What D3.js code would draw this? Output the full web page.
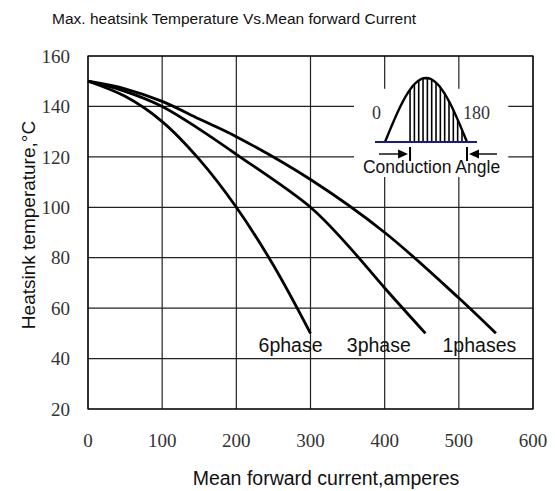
<!DOCTYPE html>
<meta charset="utf-8">
<script src="https://d3js.org/d3.v7.min.js"></script>
<style>
  body { margin: 0; background: #fff; }
</style>
<svg id="chart" width="555" height="491"></svg>
<script>
    // values
    var current6 = [0, 50, 100, 150, 200, 250, 300];
    var temp6    = [150, 144, 134, 119, 100, 77, 50];
    var current3 = [0, 50, 100, 150, 200, 300, 350, 400, 455];
    var temp3    = [150, 146, 140, 131, 121, 100, 85, 68, 50];
    var current1 = [0, 50, 100, 150, 200, 300, 400, 500, 550];
    var temp1    = [150, 147, 142, 135, 128, 111, 90, 64, 50];
    var seriesNames = ["6phase", "3phase", "1phases"];
    var labelAt = [230, 349, 478];   // x value where each label starts
    var xTicks = [0, 100, 200, 300, 400, 500, 600];
    var yTicks = [20, 40, 60, 80, 100, 120, 140, 160];

    var svg = d3.select("#chart");
    var margin = {left: 88, right: 22, top: 56, bottom: 82};
    var width = 555 - margin.left - margin.right,
        height = 491 - margin.top - margin.bottom;

    var x = d3.scaleLinear().domain([0, 600]).range([0, width]);
    var y = d3.scaleLinear().domain([20, 160]).range([height, 0]);

    var g = svg.append("g").attr("transform", "translate(" + margin.left + "," + margin.top + ")");

    // grid
    g.selectAll(".vgrid").data(xTicks).enter().append("line")
        .attr("x1", d => x(d)).attr("x2", d => x(d))
        .attr("y1", 0).attr("y2", height)
        .attr("stroke", "#222").attr("stroke-width", 1.2);
    g.selectAll(".hgrid").data(yTicks).enter().append("line")
        .attr("x1", 0).attr("x2", width)
        .attr("y1", d => y(d)).attr("y2", d => y(d))
        .attr("stroke", "#222").attr("stroke-width", 1.2);

    // axes as text only
    g.selectAll(".ylab").data(yTicks).enter().append("text")
        .attr("x", -18).attr("y", d => y(d)).attr("dy", "0.35em")
        .attr("text-anchor", "end")
        .style("font", "19px 'Liberation Serif', serif").style("fill", "#333")
        .text(d => d);
    g.selectAll(".xlab").data(xTicks).enter().append("text")
        .attr("x", d => x(d)).attr("y", height + 38)
        .attr("text-anchor", "middle")
        .style("font", "19px 'Liberation Serif', serif").style("fill", "#333")
        .text(d => d);

    // white box behind the inset
    var box = {x0: 360, x1: 568, y0: 147, y1: 112};
    g.append("rect")
        .attr("x", x(box.x0) - 1).attr("y", y(box.y0))
        .attr("width", x(box.x1) - x(box.x0)).attr("height", y(box.y1) - y(box.y0))
        .attr("fill", "#fff");

    // curves
    var series = [
        current6.map((c, i) => [c, temp6[i]]),
        current3.map((c, i) => [c, temp3[i]]),
        current1.map((c, i) => [c, temp1[i]])
    ];
    var line = d3.line()
        .x(d => x(d[0])).y(d => y(d[1]))
        .curve(d3.curveCatmullRom.alpha(0.5));
    g.selectAll(".curve").data(series).enter().append("path")
        .attr("d", line)
        .attr("fill", "none").attr("stroke", "#000").attr("stroke-width", 2.8);

    g.selectAll(".slab").data(seriesNames).enter().append("text")
        .attr("x", (d, i) => x(labelAt[i])).attr("y", y(50) + 19)
        .style("font", "19.5px 'Liberation Sans', Arial, sans-serif").style("fill", "#111")
        .text(d => d);

    // inset: half sine wave with conduction angle
    var ix0 = 297, ix1 = 379, ibase = 86, ipeak = 64;
    var deg = d3.scaleLinear().domain([0, 180]).range([ix0, ix1]);
    var wave = d3.range(0, 181, 5).map(a => [deg(a), ibase - ipeak * Math.sin(a * Math.PI / 180)]);
    var hatch = d3.range(0, 13).map(k => 55 + k * 9.5);
    g.selectAll(".hatch").data(hatch).enter().append("line")
        .attr("x1", a => deg(a)).attr("x2", a => deg(a))
        .attr("y1", ibase).attr("y2", a => ibase - ipeak * Math.sin(a * Math.PI / 180))
        .attr("stroke", "#000").attr("stroke-width", 1.6);
    g.append("path").attr("d", d3.line()(wave))
        .attr("fill", "none").attr("stroke", "#000").attr("stroke-width", 2.4);
    g.append("line").attr("x1", ix0 - 10).attr("x2", ix1 + 10)
        .attr("y1", ibase).attr("y2", ibase)
        .attr("stroke", "#1a1a8c").attr("stroke-width", 2.2);
    g.append("text").attr("x", ix0 - 13).attr("y", 57).attr("dy", "0.35em")
        .style("font", "18px 'Liberation Serif', serif").style("fill", "#333").text("0");
    g.append("text").attr("x", ix1 - 4).attr("y", 57).attr("dy", "0.35em")
        .style("font", "18px 'Liberation Serif', serif").style("fill", "#333").text("180");

    var ay = 98, aL = deg(55), aR = deg(180);
    g.append("line").attr("x1", ix0 - 6).attr("x2", aL - 8).attr("y1", ay).attr("y2", ay)
        .attr("stroke", "#000").attr("stroke-width", 1.4);
    g.append("path").attr("d", d3.line()([[aL - 12, ay - 4.5], [aL - 2, ay], [aL - 12, ay + 4.5]]) + "Z");
    g.append("line").attr("x1", aL).attr("x2", aL).attr("y1", ay - 7).attr("y2", ay + 7)
        .attr("stroke", "#000").attr("stroke-width", 2);
    g.append("line").attr("x1", aR + 8).attr("x2", aR + 30).attr("y1", ay).attr("y2", ay)
        .attr("stroke", "#000").attr("stroke-width", 1.4);
    g.append("path").attr("d", d3.line()([[aR + 12, ay - 4.5], [aR + 2, ay], [aR + 12, ay + 4.5]]) + "Z");
    g.append("line").attr("x1", aR).attr("x2", aR).attr("y1", ay - 7).attr("y2", ay + 7)
        .attr("stroke", "#000").attr("stroke-width", 2);
    g.append("text").attr("x", (aL + aR) / 2 - 7).attr("y", 117)
        .attr("text-anchor", "middle")
        .style("font", "17.5px 'Liberation Sans', Arial, sans-serif").style("fill", "#111")
        .text("Conduction Angle");

    // border
    g.append("rect").attr("width", width).attr("height", height)
        .attr("fill", "none").attr("stroke", "#000").attr("stroke-width", 1.2);

    // titles
    svg.append("text").attr("x", 52).attr("y", 24)
        .style("font", "15.5px 'Liberation Sans', Arial, sans-serif").style("fill", "#111")
        .text("Max. heatsink Temperature Vs.Mean forward Current");
    svg.append("text").attr("x", 326).attr("y", 485).attr("text-anchor", "middle")
        .style("font", "19.5px 'Liberation Sans', Arial, sans-serif").style("fill", "#111")
        .text("Mean forward current,amperes");
    svg.append("text").attr("transform", "translate(35,225) rotate(-90)")
        .attr("text-anchor", "middle")
        .style("font", "19px 'Liberation Sans', Arial, sans-serif").style("fill", "#111")
        .text("Heatsink temperature,°C");
</script>
